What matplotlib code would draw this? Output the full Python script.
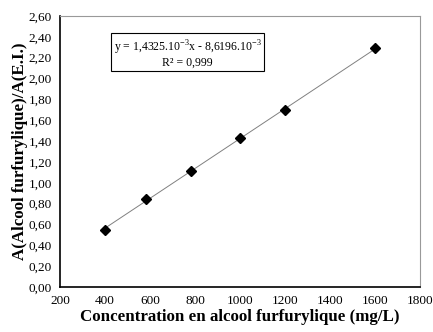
import matplotlib
matplotlib.use('Agg')
import matplotlib.pyplot as plt
import numpy as np

# données
conc = [400, 580, 780, 1000, 1200, 1600]
ratio = [0.55, 0.84, 1.11, 1.43, 1.70, 2.29]
pente = 1.4325e-3
ordonnee = -8.6196e-3

plt.rcParams['font.family'] = ['Liberation Serif', 'DejaVu Serif']

fig = plt.figure(figsize=(4.33, 3.32), dpi=100)
ax = fig.add_axes([60 / 433, 1 - 287 / 332, 360 / 433, 271 / 332])

xf = np.array([conc[0], conc[-1]])
ax.plot(xf, pente * xf + ordonnee, color='#808080', lw=0.7, zorder=2)
ax.plot(conc, ratio, 'D', color='black', ms=5.5, zorder=3)

ax.set_xlim(200, 1800)
ax.set_ylim(0, 2.6)
ax.set_xticks(range(200, 1801, 200))
yt = np.arange(0, 2.61, 0.2)
ax.set_yticks(yt)
ax.set_yticklabels([f'{v:.2f}'.replace('.', ',') for v in yt])
ax.tick_params(length=0, labelsize=9.5, pad=6)

for s in ['top', 'right']:
    ax.spines[s].set_color('#999999')
    ax.spines[s].set_linewidth(0.8)
for s in ['left', 'bottom']:
    ax.spines[s].set_color('black')
    ax.spines[s].set_linewidth(1.2)

ax.set_xlabel('Concentration en alcool furfurylique (mg/L)', fontsize=12.2,
              fontweight='bold', labelpad=1)
ax.set_ylabel('A(Alcool furfurylique)/A(E.I.)', fontsize=12.2,
              fontweight='bold', labelpad=0)

ax.text(0.354, 0.862,
        'y = 1,4325.10$^{\\mathregular{-3}}$x - 8,6196.10$^{\\mathregular{-3}}$\nR² = 0,999',
        transform=ax.transAxes, ha='center', va='center', fontsize=8.5,
        linespacing=1.0,
        bbox=dict(boxstyle='square,pad=0.2', fc='white', ec='black', lw=0.8))

fig.savefig('out.png', dpi=100)
